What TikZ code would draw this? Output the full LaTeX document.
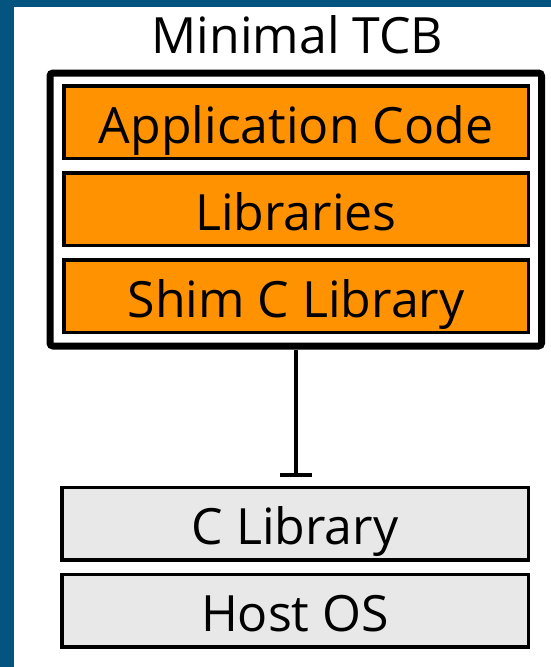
\documentclass[tikz,border=0pt]{standalone}
\usepackage{fontspec}
\setmainfont{Open Sans}
\usetikzlibrary{arrows.meta,positioning}
\definecolor{slideblue}{RGB}{4,84,128}
\definecolor{layerorange}{RGB}{255,146,0}
\definecolor{layergray}{RGB}{232,232,232}

\begin{document}
\begin{tikzpicture}[x=1pt, y=-1pt, every node/.style={font=\fontsize{50}{60}\selectfont},
	layer/.style={draw, line width=3.5pt, minimum width=464.5pt, minimum height=72.5pt, inner sep=0pt,
		text height=50pt, text depth=8pt},
	>={Bar[width=32pt]}]
	\fill[slideblue] (0,0) rectangle (551,667);
	\fill[white] (14,7) rectangle (551,667);
	\node[draw, line width=7pt, rounded corners=3pt, minimum width=491.5pt, minimum height=273pt] (tcb) at (295.75,209.5) {};
	\node[anchor=base] (title) at (297.5,53) {Minimal TCB};
	\node[layer, fill=layerorange] (app) at (296,122) {Application Code};
	\node[layer, fill=layerorange, below=11pt of app] (libs) {Libraries};
	\node[layer, fill=layerorange, below=11pt of libs] (shim) {Shim C Library};
	\node[layer, fill=layergray, minimum width=466.5pt] (clib) at (295,523.5) {C Library};
	\node[layer, fill=layergray, minimum width=466.5pt, below=11pt of clib] (host) {Host OS};
	\draw[->, line width=4pt, shorten >=9pt] (tcb.south) -- (tcb.south |- clib.north);
\end{tikzpicture}
\end{document}
